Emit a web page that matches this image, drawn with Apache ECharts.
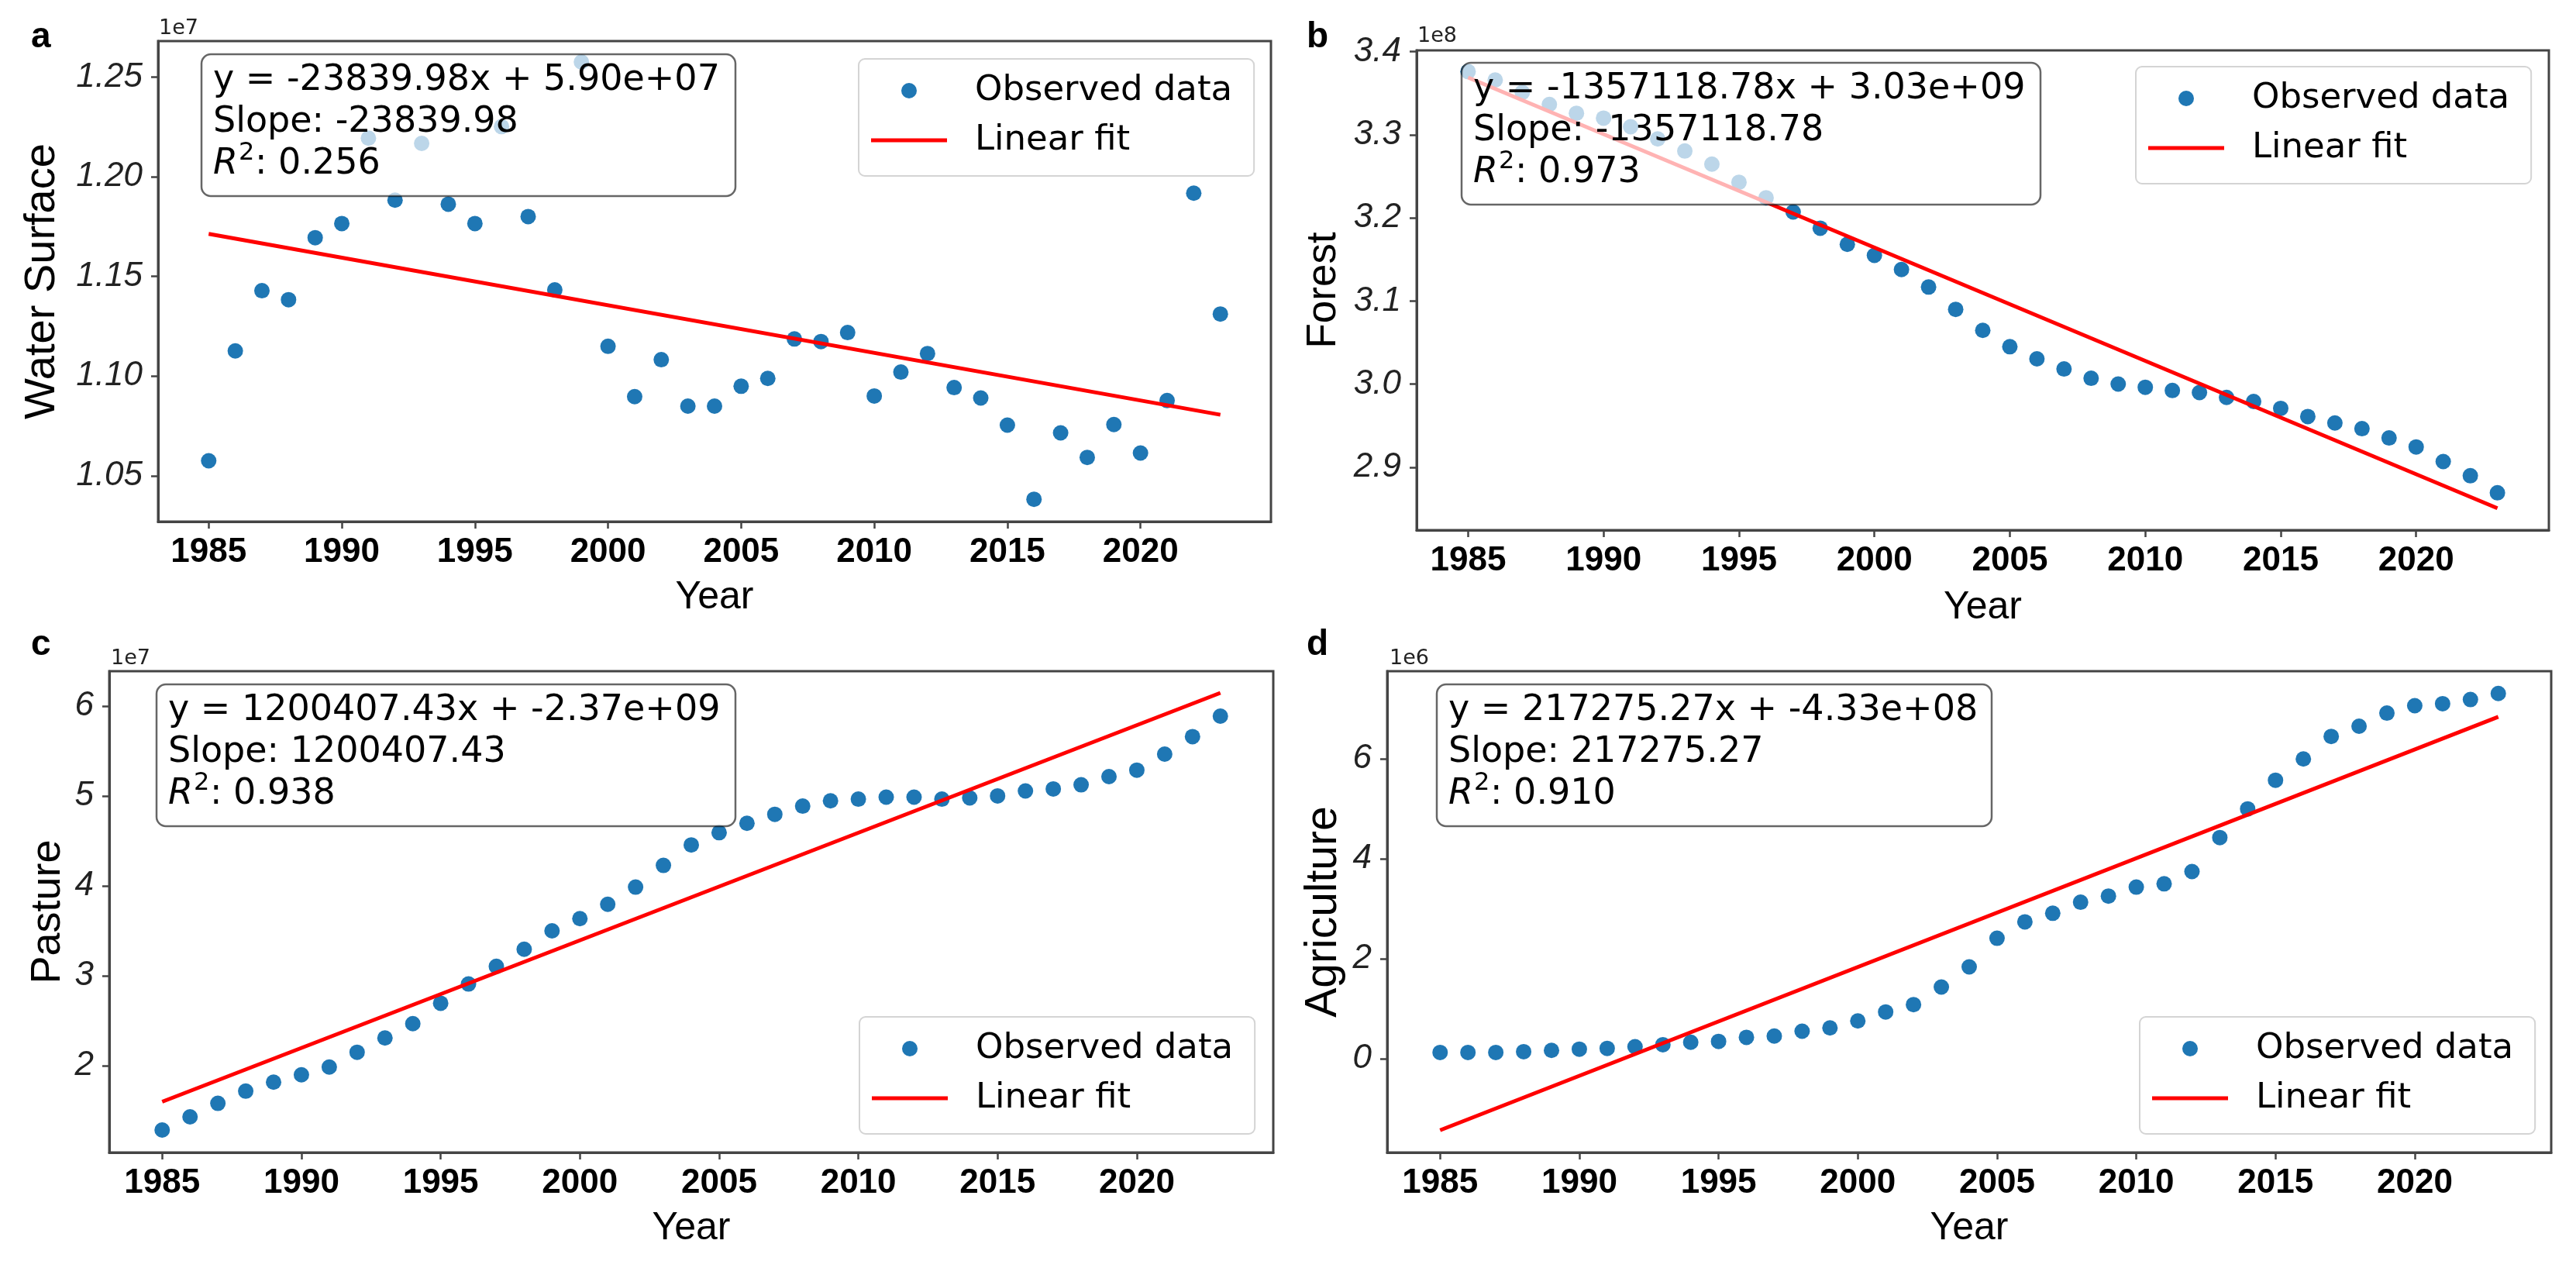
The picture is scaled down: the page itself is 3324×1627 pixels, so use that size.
<!DOCTYPE html>
<html>
<head>
<meta charset="utf-8">
<script src="https://cdn.jsdelivr.net/npm/echarts@6/dist/echarts.min.js"></script>
<style>
html,body{margin:0;padding:0;background:#ffffff;}
#c{width:3324px;height:1627px;}
</style>
</head>
<body>
<div id="c"></div>
<script>
// ---------------- data ----------------
const years = [1985,1986,1987,1988,1989,1990,1991,1992,1993,1994,1995,1996,1997,1998,1999,2000,2001,2002,2003,2004,2005,2006,2007,2008,2009,2010,2011,2012,2013,2014,2015,2016,2017,2018,2019,2020,2021,2022,2023];

// Water Surface (x1e7)
const waterSurface = [1.0575,1.1126,1.1428,1.1383,1.1694,1.1765,1.2193,1.1882,1.2167,1.1862,1.1765,1.2251,1.1800,1.1432,1.2575,1.1149,1.0897,1.1082,1.0849,1.0849,1.0949,1.0988,1.1186,1.1173,1.1218,1.0900,1.1020,1.1113,1.0942,1.0890,1.0754,1.0382,1.0715,1.0592,1.0757,1.0614,1.0877,1.1917,1.1311];
// Forest (x1e8)
const forest = [3.376,3.3658,3.351,3.3365,3.3258,3.320,3.3097,3.295,3.2804,3.2647,3.2428,3.2242,3.2071,3.1876,3.1681,3.1549,3.1378,3.1168,3.0899,3.0646,3.045,3.0304,3.0182,3.007,3.0001,2.9962,2.9923,2.9898,2.984,2.9791,2.9708,2.961,2.9532,2.9464,2.9352,2.9244,2.9068,2.8897,2.8692];
// Pasture (x1e7)
const pasture = [1.286,1.432,1.582,1.718,1.818,1.900,1.986,2.150,2.309,2.468,2.695,2.909,3.105,3.295,3.500,3.636,3.795,3.986,4.227,4.455,4.591,4.695,4.795,4.886,4.945,4.964,4.986,4.986,4.964,4.977,5.000,5.055,5.077,5.123,5.214,5.286,5.464,5.659,5.886];
// Agriculture (x1e6)
const agriculture = [0.123,0.123,0.123,0.139,0.164,0.189,0.205,0.238,0.279,0.328,0.344,0.426,0.451,0.549,0.615,0.754,0.934,1.082,1.434,1.836,2.410,2.738,2.910,3.131,3.254,3.434,3.500,3.746,4.426,5.000,5.574,6.000,6.451,6.656,6.918,7.066,7.107,7.189,7.311];

// linear-fit line end points
const fitYears = [1985, 2023];
const fitWater = [1.1713, 1.0806];
const fitForest = [3.3688, 2.8507];
const fitPasture = [1.600, 6.145];
const fitAgriculture = [-1.434, 6.844];

// tick labels
const xTicks = [1985,1990,1995,2000,2005,2010,2015,2020];
const waterTicks = [1.05,1.10,1.15,1.20,1.25];
const forestTicks = [2.9,3.0,3.1,3.2,3.3,3.4];
const pastureTicks = [2,3,4,5,6];
const agricultureTicks = [0,2,4,6];

const yNames = ['Water Surface','Forest','Pasture','Agriculture'];
const panelLetters = ['a','b','c','d'];
const offsetTexts = ['1e7','1e8','1e7','1e6'];
const eqLines = [
  ['y = -23839.98x + 5.90e+07','Slope: -23839.98',': 0.256'],
  ['y = -1357118.78x + 3.03e+09','Slope: -1357118.78',': 0.973'],
  ['y = 1200407.43x + -2.37e+09','Slope: 1200407.43',': 0.938'],
  ['y = 217275.27x + -4.33e+08','Slope: 217275.27',': 0.910']
];

// ---------------- layout (pixels) ----------------
const panels = [
  {grid:{left:204,top:53,width:1436,height:620}, ymin:1.027, ymax:1.268, dec:2, ticks:waterTicks, vals:waterSurface, fit:fitWater,
   nameGap:121, nameSize:56, xNameGap:73, legend:{left:1108,top:76}, box:{x:260,y:70,w:689,h:183},
   letter:{x:40,y:48}, offset:{x:205,y:37}},
  {grid:{left:1828,top:65,width:1461,height:619}, ymin:2.8243, ymax:3.4015, dec:1, ticks:forestTicks, vals:forest, fit:fitForest,
   nameGap:93, nameSize:53, xNameGap:75, legend:{left:2756,top:86}, box:{x:1886,y:81,w:747,h:183},
   letter:{x:1686,y:48}, offset:{x:1829,y:47}},
  {grid:{left:141,top:866,width:1502,height:621}, ymin:1.036, ymax:6.386, dec:0, ticks:pastureTicks, vals:pasture, fit:fitPasture,
   nameGap:52, nameSize:54, xNameGap:73, legend:{left:1109,top:1312}, box:{x:202,y:883,w:747,h:183},
   letter:{x:40,y:832}, offset:{x:143,y:850}},
  {grid:{left:1790,top:866,width:1502,height:621}, ymin:-1.88, ymax:7.757, dec:0, ticks:agricultureTicks, vals:agriculture, fit:fitAgriculture,
   nameGap:53, nameSize:57, xNameGap:73, legend:{left:2761,top:1312}, box:{x:1854,y:883,w:716,h:183},
   letter:{x:1686,y:832}, offset:{x:1793,y:850}}
];

const AX = '#444444';
const grids = [], xAxes = [], yAxes = [], series = [], legends = [], graphics = [];

panels.forEach((p, i) => {
  grids.push(Object.assign({show:true, borderColor:AX, borderWidth:3, backgroundColor:'rgba(0,0,0,0)', containLabel:false}, p.grid));
  xAxes.push({
    type:'value', gridIndex:i, min:1983.1, max:2024.9,
    name:'Year', nameLocation:'middle', nameGap:p.xNameGap,
    nameTextStyle:{fontFamily:'Liberation Sans', fontSize:50, color:'#000'},
    axisLine:{show:true, onZero:false, lineStyle:{color:AX, width:3}},
    axisTick:{show:true, length:9, lineStyle:{color:AX, width:2.5}, customValues:xTicks},
    axisLabel:{customValues:xTicks, margin:18, fontFamily:'Liberation Sans', fontWeight:'bold', fontSize:44, color:'#000',
      formatter:v=>String(Math.round(v))},
    splitLine:{show:false}
  });
  yAxes.push({
    type:'value', gridIndex:i, min:p.ymin, max:p.ymax,
    name:yNames[i], nameLocation:'middle', nameGap:p.nameGap, nameRotate:90,
    nameTextStyle:{fontFamily:'Liberation Sans', fontSize:p.nameSize, color:'#000'},
    axisLine:{show:true, onZero:false, lineStyle:{color:AX, width:3}},
    axisTick:{show:true, length:9, lineStyle:{color:AX, width:2.5}, customValues:p.ticks},
    axisLabel:{customValues:p.ticks, margin:20, fontFamily:'Liberation Sans', fontStyle:'italic', fontSize:44, color:'#222',
      formatter:v=>Number(v).toFixed(p.dec)},
    splitLine:{show:false}
  });
  series.push({
    name:'Observed data', type:'scatter', xAxisIndex:i, yAxisIndex:i,
    data: years.map((y,k)=>[y, p.vals[k]]),
    symbol:'circle', symbolSize:20, itemStyle:{color:'#1f77b4', opacity:1}, silent:true, z:2
  });
  series.push({
    name:'Linear fit', type:'line', xAxisIndex:i, yAxisIndex:i,
    data: fitYears.map((y,k)=>[y, p.fit[k]]),
    symbol:'none', showSymbol:false, lineStyle:{color:'#ff0000', width:5}, itemStyle:{color:'#ff0000'}, silent:true, z:3
  });
  legends.push({
    show:true, orient:'vertical', left:p.legend.left, top:p.legend.top,
    data:[{name:'Observed data', icon:'circle'}, {name:'Linear fit', icon:'path://M0,0H98V5H0Z'}],
    itemWidth:98, itemHeight:20, itemGap:19, symbolKeepAspect:true,
    padding:[18.5, 28, 23.5, 16],
    borderColor:'#d4d4d4', borderWidth:2, borderRadius:8, backgroundColor:'rgba(255,255,255,0.8)',
    textStyle:{fontFamily:'DejaVu Sans', fontSize:45, lineHeight:45, color:'#000', padding:[0,0,0,31]},
    selectedMode:false, z:10
  });

  // equation box
  const b = p.box;
  const tx = b.x + 15;
  graphics.push({type:'rect', z:100, shape:{x:b.x, y:b.y, width:b.w, height:b.h, r:12},
    style:{fill:'rgba(255,255,255,0.7)', stroke:'rgba(0,0,0,0.6)', lineWidth:2.5}});
  const f = '46px "DejaVu Sans"';
  graphics.push({type:'text', z:101, x:tx, y:b.y+34.5, style:{text:eqLines[i][0], font:f, fill:'#000', textAlign:'left', textVerticalAlign:'middle'}});
  graphics.push({type:'text', z:101, x:tx, y:b.y+88.5, style:{text:eqLines[i][1], font:f, fill:'#000', textAlign:'left', textVerticalAlign:'middle'}});
  graphics.push({type:'text', z:101, x:tx, y:b.y+142.5, style:{text:'R', font:'italic 46px "DejaVu Sans"', fill:'#000', textAlign:'left', textVerticalAlign:'middle'}});
  graphics.push({type:'text', z:101, x:tx+33, y:b.y+128, style:{text:'2', font:'32px "DejaVu Sans"', fill:'#000', textAlign:'left', textVerticalAlign:'middle'}});
  graphics.push({type:'text', z:101, x:tx+54, y:b.y+142.5, style:{text:eqLines[i][2], font:f, fill:'#000', textAlign:'left', textVerticalAlign:'middle'}});

  // panel letter and offset text
  graphics.push({type:'text', z:101, x:p.letter.x, y:p.letter.y, style:{text:panelLetters[i], font:'bold 46px "Liberation Sans"', fill:'#000', textAlign:'left', textVerticalAlign:'middle'}});
  graphics.push({type:'text', z:101, x:p.offset.x, y:p.offset.y, style:{text:offsetTexts[i], font:'27px "DejaVu Sans"', fill:'#222', textAlign:'left', textVerticalAlign:'middle'}});
});

const chart = echarts.init(document.getElementById('c'), null, {renderer:'canvas', width:3324, height:1627, devicePixelRatio:1});
chart.setOption({
  animation:false,
  backgroundColor:'#ffffff',
  grid:grids, xAxis:xAxes, yAxis:yAxes, series:series, legend:legends,
  graphic:{elements:graphics}
});
</script>
</body>
</html>
